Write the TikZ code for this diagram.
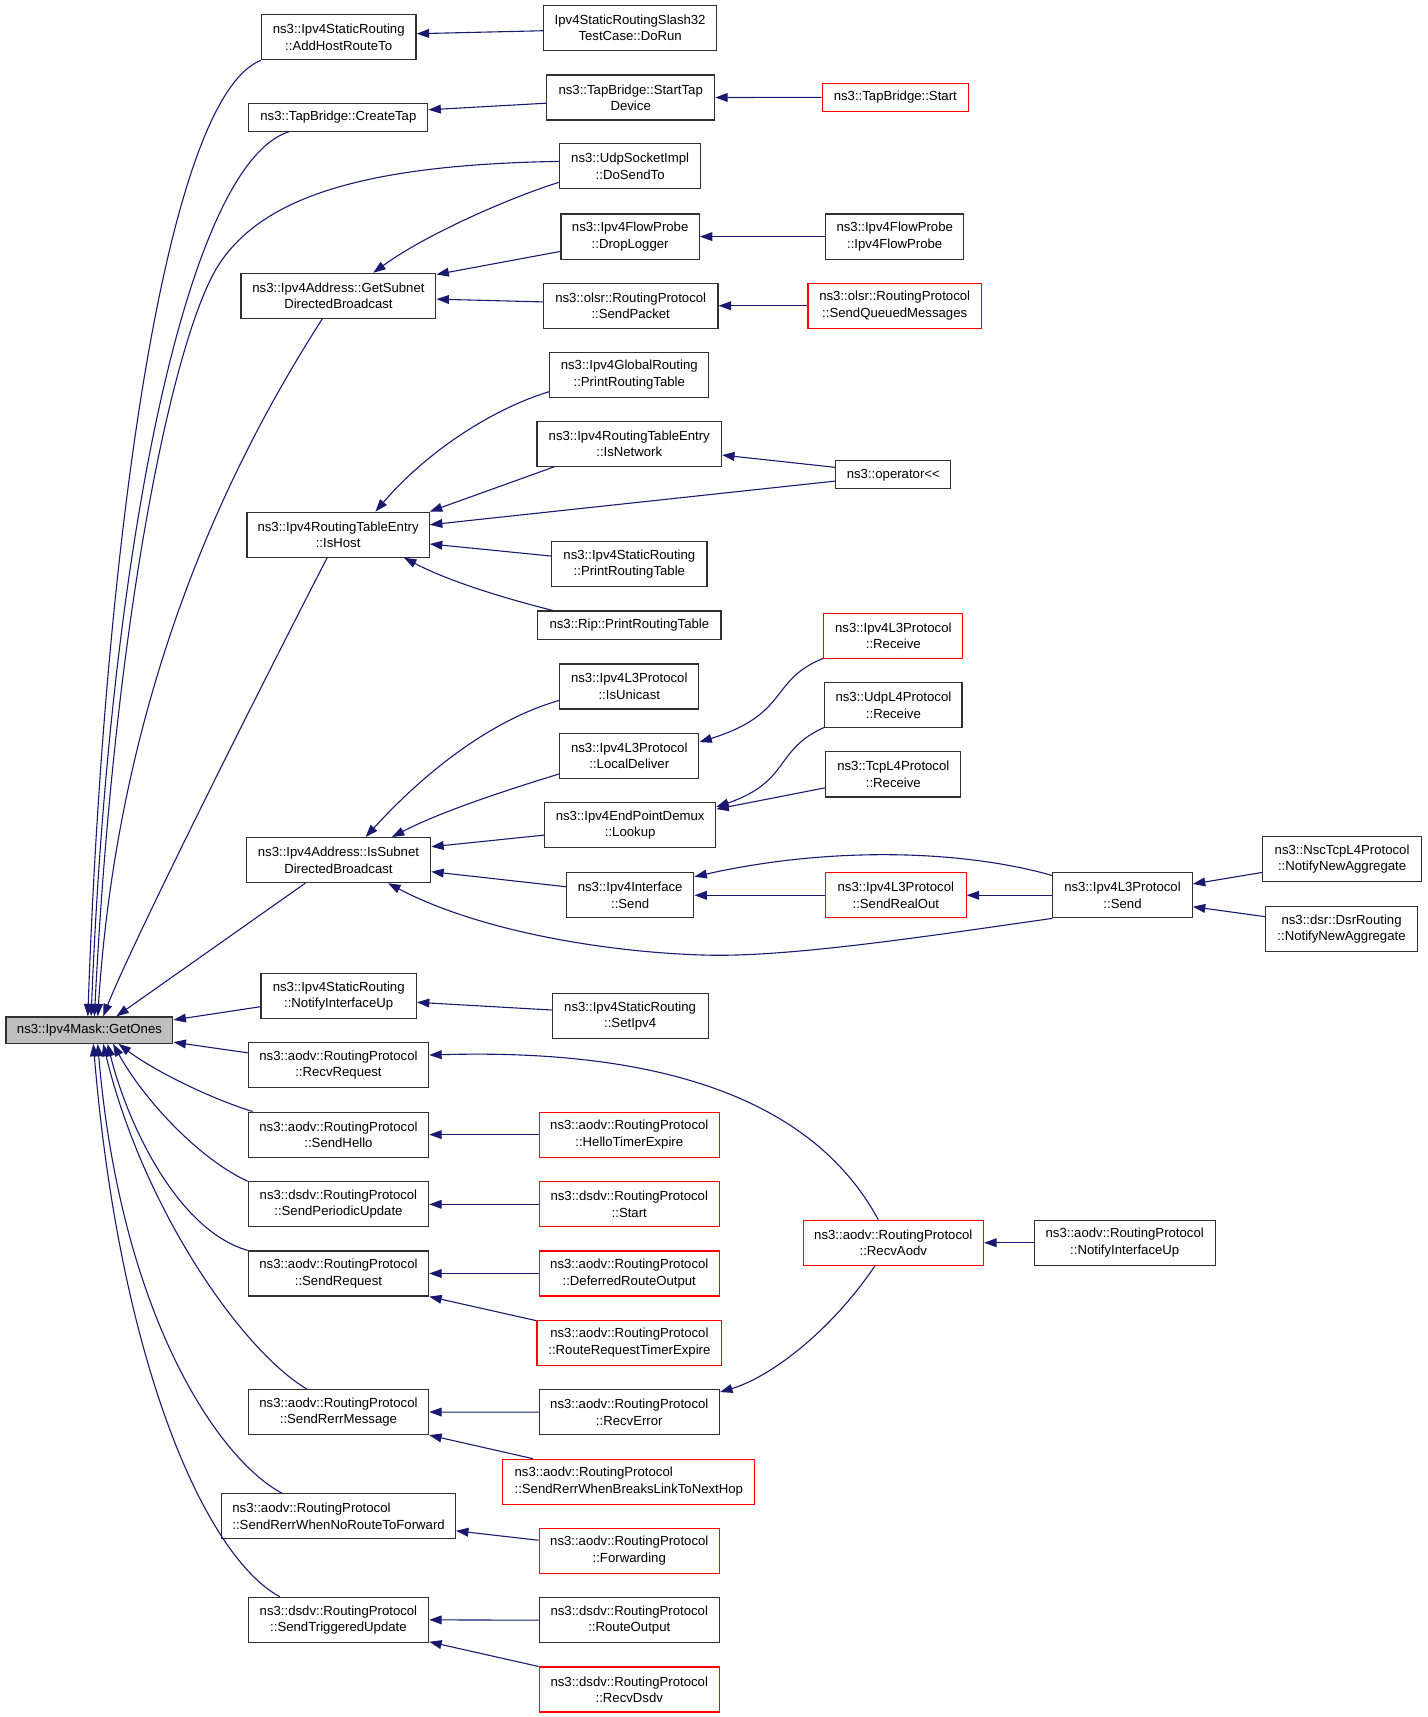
\documentclass[tikz,border=0pt]{standalone}
\usepackage{fontspec}
\setmainfont{Liberation Sans}
\usetikzlibrary{arrows.meta,calc}
\definecolor{edgec}{HTML}{191970}
\definecolor{redc}{HTML}{FF0000}
\definecolor{fillg}{HTML}{BFBFBF}
\definecolor{bordc}{HTML}{303030}
\begin{document}
\begin{tikzpicture}[x=0.75pt,y=-0.75pt,
  box/.style={draw=bordc, line width=0.8pt, inner sep=0pt, align=center, fill=white,
    font=\fontsize{9}{11.2}\selectfont, minimum height=30.75pt},
  one/.style={minimum height=18.75pt},
  redbox/.style={box, draw=redc},
  edge/.style={draw=edgec, line width=0.75pt, {Triangle[length=8.5pt,width=6pt]}-}
]
\useasboundingbox (0,0) rectangle (1300,1564);

% column 1
\node[box, one, fill=fillg, minimum width=114pt, minimum height=18pt] (G) at (81.5,938.3) {ns3::Ipv4Mask::GetOnes};

% column 2
\node[box, minimum width=105.75pt] (A1) at (308.5,34) {ns3::Ipv4StaticRouting\\::AddHostRouteTo};
\node[box, one, minimum width=122.25pt] (A2) at (308.2,107) {ns3::TapBridge::CreateTap};
\node[box, minimum width=133.1pt] (A3) at (308.3,269.5) {ns3::Ipv4Address::GetSubnet\\DirectedBroadcast};
\node[box, minimum width=124.5pt] (A4) at (308,487) {ns3::Ipv4RoutingTableEntry\\::IsHost};
\node[box, minimum width=126pt] (A5) at (308.3,783.5) {ns3::Ipv4Address::IsSubnet\\DirectedBroadcast};
\node[box, minimum width=106.1pt] (A6) at (308.5,907.3) {ns3::Ipv4StaticRouting\\::NotifyInterfaceUp};
\node[box, minimum width=123.2pt] (A7) at (308.3,970) {ns3::aodv::RoutingProtocol\\::RecvRequest};
\node[box, minimum width=123.2pt] (A8) at (308.3,1033.5) {ns3::aodv::RoutingProtocol\\::SendHello};
\node[box, minimum width=123.2pt] (A9) at (308.3,1097) {ns3::dsdv::RoutingProtocol\\::SendPeriodicUpdate};
\node[box, minimum width=123.2pt] (A10) at (308.3,1160) {ns3::aodv::RoutingProtocol\\::SendRequest};
\node[box, minimum width=123.2pt] (A11) at (308.3,1286.2) {ns3::aodv::RoutingProtocol\\::SendRerrMessage};
\node[box, align=left, minimum width=159.6pt] (A12) at (308.4,1381) {ns3::aodv::RoutingProtocol\\::SendRerrWhenNoRouteToForward};
\node[box, minimum width=123.2pt] (A13) at (308.3,1475.5) {ns3::dsdv::RoutingProtocol\\::SendTriggeredUpdate};

% column 3
\node[box, minimum width=118.1pt] (B1) at (574,25.5) {Ipv4StaticRoutingSlash32\\TestCase::DoRun};
\node[box, minimum width=114.75pt] (B2) at (574.5,88.8) {ns3::TapBridge::StartTap\\Device};
\node[box, minimum width=96pt] (B3) at (574,151.5) {ns3::UdpSocketImpl\\::DoSendTo};
\node[box, minimum width=94.5pt] (B4) at (574,215.5) {ns3::Ipv4FlowProbe\\::DropLogger};
\node[box, minimum width=119.25pt] (B5) at (574.5,278.5) {ns3::olsr::RoutingProtocol\\::SendPacket};
\node[box, minimum width=108.75pt] (B6) at (573.2,341.3) {ns3::Ipv4GlobalRouting\\::PrintRoutingTable};
\node[box, minimum width=126pt] (B7) at (573.2,404.1) {ns3::Ipv4RoutingTableEntry\\::IsNetwork};
\node[box, minimum width=106.1pt] (B8) at (573.3,513.7) {ns3::Ipv4StaticRouting\\::PrintRoutingTable};
\node[box, one, minimum width=125.25pt, minimum height=19.35pt] (B9) at (573.3,569.5) {ns3::Rip::PrintRoutingTable};
\node[box, minimum width=95pt] (B10) at (573.2,625.3) {ns3::Ipv4L3Protocol\\::IsUnicast};
\node[box, minimum width=95pt] (B11) at (573.2,688.7) {ns3::Ipv4L3Protocol\\::LocalDeliver};
\node[box, minimum width=117pt] (B12) at (574,751.7) {ns3::Ipv4EndPointDemux\\::Lookup};
\node[box, minimum width=87pt] (B13) at (574,815.5) {ns3::Ipv4Interface\\::Send};
\node[box, minimum width=106.5pt] (B14) at (574,925.5) {ns3::Ipv4StaticRouting\\::SetIpv4};
\node[redbox, minimum width=123.2pt] (B15) at (573.2,1033.5) {ns3::aodv::RoutingProtocol\\::HelloTimerExpire};
\node[redbox, minimum width=123.2pt] (B16) at (573.2,1097) {ns3::dsdv::RoutingProtocol\\::Start};
\node[redbox, minimum width=123.2pt] (B17) at (573.2,1160) {ns3::aodv::RoutingProtocol\\::DeferredRouteOutput};
\node[redbox, minimum width=126.15pt] (B18) at (573.3,1223) {ns3::aodv::RoutingProtocol\\::RouteRequestTimerExpire};
\node[box, minimum width=123.2pt] (B19) at (573.2,1286.3) {ns3::aodv::RoutingProtocol\\::RecvError};
\node[redbox, align=left, minimum width=172.1pt] (B20) at (572.8,1349.7) {ns3::aodv::RoutingProtocol\\::SendRerrWhenBreaksLinkToNextHop};
\node[redbox, minimum width=123.2pt] (B21) at (573.2,1412.5) {ns3::aodv::RoutingProtocol\\::Forwarding};
\node[box, minimum width=123.2pt] (B22) at (573.2,1475.8) {ns3::dsdv::RoutingProtocol\\::RouteOutput};
\node[redbox, minimum width=123.2pt] (B23) at (573.2,1539) {ns3::dsdv::RoutingProtocol\\::RecvDsdv};

% column 4
\node[redbox, one, minimum width=99.75pt] (C1) at (815.5,88.7) {ns3::TapBridge::Start};
\node[box, minimum width=94.5pt] (C2) at (815,215.5) {ns3::Ipv4FlowProbe\\::Ipv4FlowProbe};
\node[redbox, minimum width=118.5pt] (C3) at (815,278.5) {ns3::olsr::RoutingProtocol\\::SendQueuedMessages};
\node[box, one, minimum width=78.5pt, minimum height=19.1pt] (C4) at (813.7,432.5) {ns3::operator<{}<};
\node[redbox, minimum width=95pt] (C5) at (813.7,579.2) {ns3::Ipv4L3Protocol\\::Receive};
\node[box, minimum width=93.75pt] (C6) at (813.8,642.3) {ns3::UdpL4Protocol\\::Receive};
\node[box, minimum width=92.25pt] (C7) at (813.7,705.4) {ns3::TcpL4Protocol\\::Receive};
\node[redbox, minimum width=96pt] (C8) at (816,815.5) {ns3::Ipv4L3Protocol\\::SendRealOut};
\node[redbox, minimum width=123.2pt] (C9) at (813.7,1132) {ns3::aodv::RoutingProtocol\\::RecvAodv};

% column 5
\node[box, minimum width=95.25pt] (D1) at (1022.5,815.5) {ns3::Ipv4L3Protocol\\::Send};
\node[box, minimum width=123.75pt] (D2) at (1024.5,1132) {ns3::aodv::RoutingProtocol\\::NotifyInterfaceUp};

% column 6
\node[box, minimum width=108.75pt] (E1) at (1222.5,782.5) {ns3::NscTcpL4Protocol\\::NotifyNewAggregate};
\node[box, minimum width=103.5pt] (E2) at (1222,846.5) {ns3::dsr::DsrRouting\\::NotifyNewAggregate};

% edges into GetOnes
\draw[edge] ($(G.north)+(-1.5,0)$) .. controls (95,500) and (150,90) .. (A1.south west);
\draw[edge] ($(G.north)+(1.5,0)$) .. controls (100,500) and (170,150) .. ($(A2.south)+(-45.2,0)$);
\draw[edge] ($(G.north)+(4.5,0)$) .. controls (105,550) and (160,300) .. (200,240)
   .. controls (240,180) and (330,150) .. ($(B3.west)+(0,-4.5)$);
\draw[edge] ($(G.north)+(7.5,0)$) .. controls (110,600) and (230,390) .. ($(A3.south)+(-14.8,0)$);
\draw[edge] ($(G.north)+(12.5,0)$) .. controls (120,860) and (230,640) .. ($(A4.south)+(-10,0)$);
\draw[edge] ($(G.north)+(24.5,0)$) -- ($(A5.south)+(-30.3,0)$);
\draw[edge] ($(G.east)+(0,-9.3)$) -- ($(A6.west)+(0,9.7)$);
\draw[edge] ($(G.east)+(0,11)$) -- ($(A7.west)+(0,-11)$);
\draw[edge] ($(G.south)+(26.5,0)$) .. controls (140,975) and (190,1000) .. ($(A8.north west)+(4.5,0)$);
\draw[edge] ($(G.south)+(21.5,0)$) .. controls (130,1000) and (180,1055) .. (A9.north west);
\draw[edge] ($(G.south)+(16.5,0)$) .. controls (115,1020) and (160,1120) .. (A10.north west);
\draw[edge] ($(G.south)+(12.5,0)$) .. controls (130,1100) and (220,1230) .. ($(A11.north)+(-28.9,0)$);
\draw[edge] ($(G.south)+(7.5,0)$) .. controls (110,1200) and (200,1330) .. ($(A12.north)+(-51.8,0)$);
\draw[edge] ($(G.south)+(3.5,0)$) .. controls (110,1250) and (190,1420) .. ($(A13.north)+(-53.3,0)$);

% upper right edges
\draw[edge] ($(A1.east)+(0,-3.3)$) -- ($(B1.west)+(0,2.5)$);
\draw[edge] ($(A2.east)+(0,-7)$) -- ($(B2.west)+(0,5.2)$);
\draw[edge] (B2.east) -- (C1.west);
\draw[edge] ($(A3.north)+(31.7,0)$) .. controls (390,212) and (470,178) .. ($(B3.west)+(0,14.5)$);
\draw[edge] ($(A3.east)+(0,-19.5)$) -- ($(B4.west)+(0,13.5)$);
\draw[edge] ($(A3.east)+(0,3)$) -- ($(B5.west)+(0,-3.5)$);
\draw[edge] (B4.east) -- (C2.west);
\draw[edge] (B5.east) -- (C3.west);

% IsHost
\draw[edge] ($(A4.north)+(34,0)$) .. controls (390,410) and (450,372) .. ($(B6.west)+(0,15.5)$);
\draw[edge] (A4.north east) -- ($(B7.south west)+(16.4,0)$);
\draw[edge] ($(B7.east)+(0,10.4)$) -- ($(C4.west)+(0,-6.8)$);
\draw[edge] ($(A4.east)+(0,-9)$) -- ($(C4.west)+(0,5.7)$);
\draw[edge] ($(A4.east)+(0,8.5)$) -- ($(B8.west)+(0,-7.2)$);
\draw[edge] ($(A4.south)+(60,0)$) .. controls (410,530) and (460,545) .. ($(B9.north west)+(14.2,0)$);

% IsSubnetDirectedBroadcast
\draw[edge] ($(A5.north)+(24.7,0)$) .. controls (390,700) and (450,655) .. ($(B10.west)+(0,12.7)$);
\draw[edge] ($(A5.north)+(48.7,0)$) .. controls (400,740) and (460,720) .. ($(B11.west)+(0,16.3)$);
\draw[edge] ($(B11.east)+(0,-12.7)$) .. controls (720,650) and (700,620) .. ($(C5.west)+(0,20.5)$);
\draw[edge] ($(A5.east)+(0,-12.2)$) -- ($(B12.west)+(0,9)$);
\draw[edge] ($(B12.east)+(0,-16.7)$) .. controls (720,712) and (705,683) .. ($(C6.west)+(0,20.3)$);
\draw[edge] ($(B12.east)+(0,-14.7)$) -- ($(C7.west)+(0,12.2)$);
\draw[edge] ($(A5.east)+(0,10.5)$) -- ($(B13.west)+(0,-7.8)$);
\draw[edge] ($(A5.south)+(45.2,0)$) .. controls (440,850) and (560,868) .. (644,870)
   .. controls (720,872) and (850,852) .. (D1.south west);
\draw[edge] ($(B13.east)+(0,-16.9)$) .. controls (760,770) and (880,775) .. ($(D1.west)+(0,-18)$);
\draw[edge] (B13.east) -- (C8.west);
\draw[edge] (C8.east) -- (D1.west);
\draw[edge] ($(D1.east)+(0,-10.3)$) -- ($(E1.west)+(0,12.2)$);
\draw[edge] ($(D1.east)+(0,10.4)$) -- ($(E2.west)+(0,-11.5)$);

% lower edges
\draw[edge] ($(A6.east)+(0,5.7)$) -- ($(B14.west)+(0,-5.5)$);
\draw[edge] ($(A7.east)+(0,-9)$) .. controls (600,955) and (740,1000) .. ($(C9.north)+(-13.7,0)$);
\draw[edge] (A8.east) -- (B15.west);
\draw[edge] (A9.east) -- (B16.west);
\draw[edge] (A10.east) -- (B17.west);
\draw[edge] (A10.south east) -- ($(B18.west)+(0,-20)$);
\draw[edge] (A11.east) -- (B19.west);
\draw[edge] ($(B19.east)+(0,-18.3)$) .. controls (700,1255) and (755,1215) .. ($(C9.south)+(-16.7,0)$);
\draw[edge] (A11.south east) -- ($(B20.north west)+(27.8,0)$);
\draw[edge] ($(A12.east)+(0,13.4)$) -- ($(B21.west)+(0,-9.5)$);
\draw[edge] (A13.east) -- (B22.west);
\draw[edge] ($(A13.east)+(0,20)$) -- (B23.north west);
\draw[edge] (C9.east) -- (D2.west);
\end{tikzpicture}
\end{document}
